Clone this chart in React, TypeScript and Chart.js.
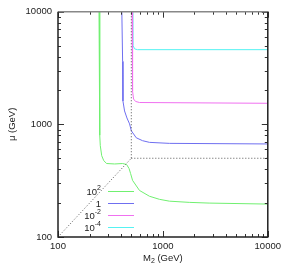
import React, { useEffect, useRef } from "react";
import { Chart, registerables } from "chart.js";
Chart.register(...registerables);

// axis ticks
const xTickVals = [100, 1000, 10000];
const yTickVals = [100, 1000, 10000];

// legend labels (base + exponent)
const legendBase = ["10", "1", "10", "10"];
const legendExp = ["2", "", "-2", "-4"];

// series: 10^2
const greenX = [246, 249, 251, 253, 261, 273, 291, 347, 413, 451, 476, 492, 514, 598, 745, 927, 1153, 1783, 2760, 10000];
const greenY = [10000, 1000, 800, 647, 527, 476, 449, 445, 449, 440, 405, 366, 318, 259, 230, 216, 208, 203, 200, 196];
// series: 1
const blueX = [406, 413, 416, 431, 454, 481, 500, 557, 640, 745, 1153, 10000];
const blueY = [10000, 3620, 1611, 1315, 1140, 1010, 877, 760, 716, 692, 678, 670];
// series: 10^-2
const magentaX = [508, 514, 525, 549, 598, 10000];
const magentaY = [10000, 1973, 1678, 1597, 1563, 1538];
// series: 10^-4
const cyanX = [518, 520, 537, 573, 10000];
const cyanY = [10000, 5012, 4677, 4603, 4603];
// dotted guide lines
const diagX = [100, 500];
const diagY = [100, 500];
const horizX = [500, 10000];
const horizY = [500, 500];
const vertX = [500, 500];
const vertY = [500, 10000];

const colors = ["#70f070", "#6f6ff0", "#f070f0", "#55f2f2"];
const FONT = "Liberation Sans, Arial, sans-serif";

function pts(xs: number[], ys: number[]) {
  return xs.map((x, i) => ({ x, y: ys[i] }));
}

const overlay = {
  id: "overlay",
  afterDraw(chart: any) {
    const ctx = chart.ctx;
    const a = chart.chartArea;
    const xs = chart.scales.x;
    const ys = chart.scales.y;
    ctx.save();
    // minor/major ticks inward on all sides
    ctx.strokeStyle = "#333";
    ctx.lineWidth = 1;
    const vals: { v: number; major: boolean }[] = [];
    for (const d of [100, 1000]) {
      for (let m = 1; m <= 9; m++) vals.push({ v: m * d, major: m === 1 });
    }
    vals.push({ v: 10000, major: true });
    ctx.beginPath();
    for (const t of vals) {
      const L = t.major ? 6 : 3;
      const px = Math.round(xs.getPixelForValue(t.v)) + 0.5;
      ctx.moveTo(px, a.bottom);
      ctx.lineTo(px, a.bottom - L);
      ctx.moveTo(px, a.top);
      ctx.lineTo(px, a.top + L);
      const py = Math.round(ys.getPixelForValue(t.v)) + 0.5;
      ctx.moveTo(a.left, py);
      ctx.lineTo(a.left + L, py);
      ctx.moveTo(a.right, py);
      ctx.lineTo(a.right - L, py);
    }
    ctx.stroke();
    // border
    ctx.lineWidth = 1.5;
    ctx.strokeStyle = "#888";
    ctx.beginPath();
    ctx.moveTo(a.left, a.top);
    ctx.lineTo(a.right, a.top);
    ctx.stroke();
    ctx.strokeStyle = "#222";
    ctx.beginPath();
    ctx.moveTo(a.left, a.top);
    ctx.lineTo(a.left, a.bottom);
    ctx.lineTo(a.right, a.bottom);
    ctx.lineTo(a.right, a.top);
    ctx.stroke();

    // legend
    ctx.fillStyle = "#222";
    ctx.textBaseline = "middle";
    const rowY = [191, 203, 215, 227];
    for (let i = 0; i < legendBase.length; i++) {
      const y = rowY[i];
      ctx.font = `9.5px ${FONT}`;
      const bw = ctx.measureText(legendBase[i]).width;
      ctx.font = `7px ${FONT}`;
      const ew = legendExp[i] ? ctx.measureText(legendExp[i]).width : 0;
      const right = 101;
      const start = right - bw - ew;
      ctx.font = `9.5px ${FONT}`;
      ctx.textAlign = "left";
      ctx.fillText(legendBase[i], start, y + 1);
      if (legendExp[i]) {
        ctx.font = `7px ${FONT}`;
        ctx.fillText(legendExp[i], start + bw, y - 3);
      }
      ctx.strokeStyle = colors[i];
      ctx.lineWidth = 1;
      ctx.beginPath();
      ctx.moveTo(108, y + 0.5);
      ctx.lineTo(134, y + 0.5);
      ctx.stroke();
    }

    // x title: M2 (GeV)
    ctx.fillStyle = "#222";
    ctx.textAlign = "left";
    ctx.textBaseline = "alphabetic";
    const cx = (a.left + a.right) / 2;
    ctx.font = `9.5px ${FONT}`;
    const wM = ctx.measureText("M").width;
    const wRest = ctx.measureText(" (GeV)").width;
    ctx.font = `7px ${FONT}`;
    const w2 = ctx.measureText("2").width;
    const total = wM + w2 + wRest;
    const x0 = cx - total / 2;
    const by = 261;
    ctx.font = `9.5px ${FONT}`;
    ctx.fillText("M", x0, by);
    ctx.font = `7px ${FONT}`;
    ctx.fillText("2", x0 + wM, by + 2);
    ctx.font = `9.5px ${FONT}`;
    ctx.fillText(" (GeV)", x0 + wM + w2, by);

    // y title
    ctx.save();
    ctx.translate(12.5, (a.top + a.bottom) / 2);
    ctx.rotate(-Math.PI / 2);
    ctx.textAlign = "center";
    ctx.textBaseline = "middle";
    ctx.font = `9.5px ${FONT}`;
    ctx.fillText("\u03bc (GeV)", 0, 0);
    ctx.restore();

    ctx.restore();
  },
};

export default function App() {
  const ref = useRef<HTMLCanvasElement | null>(null);
  useEffect(() => {
    if (!ref.current) return;
    const solid = (data: any, color: string) => ({
      data,
      borderColor: color,
      borderWidth: 1,
      showLine: true,
      pointRadius: 0,
      tension: 0,
      fill: false,
    });
    const dotted = (data: any) => ({
      data,
      borderColor: "#555",
      borderWidth: 1,
      borderDash: [1, 2],
      showLine: true,
      pointRadius: 0,
      fill: false,
    });
    const chart = new Chart(ref.current, {
      type: "scatter",
      data: {
        datasets: [
          dotted(pts(diagX, diagY)),
          dotted(pts(horizX, horizY)),
          dotted(pts(vertX, vertY)),
          solid(pts(greenX, greenY), colors[0]),
          solid(pts(blueX, blueY), colors[1]),
          solid(pts(magentaX, magentaY), colors[2]),
          solid(pts(cyanX, cyanY), colors[3]),
        ] as any,
      },
      options: {
        animation: false,
        responsive: false,
        devicePixelRatio: 1,
        layout: { padding: { top: 10, right: 16, left: 0, bottom: 0 } },
        plugins: { legend: { display: false }, tooltip: { enabled: false }, title: { display: false } },
        scales: {
          x: {
            type: "logarithmic",
            min: 100,
            max: 10000,
            grid: { display: false, drawTicks: false },
            border: { display: false },
            afterBuildTicks: (s: any) => {
              s.ticks = xTickVals.map((v) => ({ value: v }));
            },
            afterFit: (s: any) => {
              s.height = 28;
            },
            ticks: {
              autoSkip: false,
              maxRotation: 0,
              padding: 4,
              color: "#222",
              font: { family: FONT, size: 9.5 },
              callback: (v: any) => String(v),
            },
          },
          y: {
            type: "logarithmic",
            min: 100,
            max: 10000,
            grid: { display: false, drawTicks: false },
            border: { display: false },
            afterBuildTicks: (s: any) => {
              s.ticks = yTickVals.map((v) => ({ value: v }));
            },
            afterFit: (s: any) => {
              s.width = 58;
            },
            ticks: {
              autoSkip: false,
              padding: 6,
              color: "#222",
              font: { family: FONT, size: 9.5 },
              callback: (v: any) => String(v),
            },
          },
        },
      },
      plugins: [overlay],
    });
    return () => chart.destroy();
  }, []);
  return (
    <div style={{ position: "fixed", left: 0, top: 0, width: 285, height: 265, background: "#fff" }}>
      <canvas ref={ref} width={285} height={265} style={{ width: 285, height: 265, display: "block" }} />
    </div>
  );
}
